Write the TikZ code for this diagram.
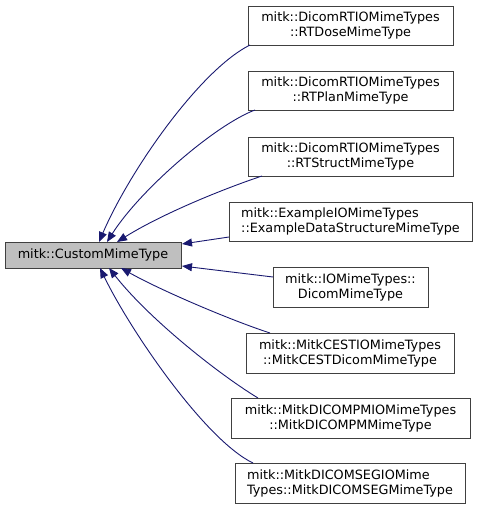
\documentclass[tikz,border=0pt]{standalone}
\usepackage{fontspec}
\setmainfont{DejaVu Sans}
\usetikzlibrary{arrows.meta}
\definecolor{edgeblue}{RGB}{25,25,112}
\definecolor{boxborder}{RGB}{64,64,64}
\begin{document}
\begin{tikzpicture}[x=1pt,y=-1pt,
  box/.style={draw=boxborder, line width=1pt, fill=white, inner sep=0pt, align=center,
    font=\fontsize{12.8}{15}\selectfont, minimum height=39pt},
  basebox/.style={box, fill=black!25, minimum height=26pt},
  edge/.style={draw=edgeblue, line width=0.9pt, -{Triangle[length=10pt,width=8pt]}}]
\useasboundingbox (0,0) rectangle (477,509);
\node[basebox, minimum width=176pt] (base) at (93,255) {mitk::CustomMimeType};
\node[box, minimum width=205pt] (dose) at (350.5,25.5) {mitk::DicomRTIOMimeTypes\\::RTDoseMimeType};
\node[box, minimum width=205pt] (plan) at (350.5,90.5) {mitk::DicomRTIOMimeTypes\\::RTPlanMimeType};
\node[box, minimum width=205pt] (struct) at (350.5,156.5) {mitk::DicomRTIOMimeTypes\\::RTStructMimeType};
\node[box, minimum width=243pt, align=left] (example) at (350.5,221.5) {mitk::ExampleIOMimeTypes\\::ExampleDataStructureMimeType};
\node[box, minimum width=155pt, minimum height=40pt] (dicom) at (350.5,287) {mitk::IOMimeTypes::\\DicomMimeType};
\node[box, minimum width=208pt, minimum height=40pt] (cest) at (350,353) {mitk::MitkCESTIOMimeTypes\\::MitkCESTDicomMimeType};
\node[box, minimum width=239pt, minimum height=40pt] (pm) at (350.5,418) {mitk::MitkDICOMPMIOMimeTypes\\::MitkDICOMPMMimeType};
\node[box, minimum width=230pt, minimum height=40pt, align=left] (seg) at (350,483) {mitk::MitkDICOMSEGIOMime\\Types::MitkDICOMSEGMimeType};
\coordinate (t1) at (99,242);
\coordinate (t2) at (107,242);
\coordinate (t3) at (117,242);
\coordinate (t4) at (182,244);
\coordinate (t5) at (182,266);
\coordinate (t6) at (121,268);
\coordinate (t7) at (109,268);
\coordinate (t8) at (100,268);
\coordinate (s1) at (250,45);
\coordinate (s2) at (255,110);
\coordinate (s3) at (262,176);
\coordinate (s4) at (229,237);
\coordinate (s5) at (273,277);
\coordinate (s6) at (270,333);
\coordinate (s7) at (258,398);
\coordinate (s8) at (253,463);
\draw[edge] (s1) .. controls (200,70) and (130,170) .. (t1);
\draw[edge] (s2) .. controls (215,125) and (140,190) .. (t2);
\draw[edge] (s3) .. controls (220,190) and (160,215) .. (t3);
\draw[edge] (s4) -- (t4);
\draw[edge] (s5) -- (t5);
\draw[edge] (s6) .. controls (230,320) and (160,290) .. (t6);
\draw[edge] (s7) .. controls (220,375) and (150,320) .. (t7);
\draw[edge] (s8) .. controls (205,440) and (130,330) .. (t8);
\end{tikzpicture}
\end{document}
